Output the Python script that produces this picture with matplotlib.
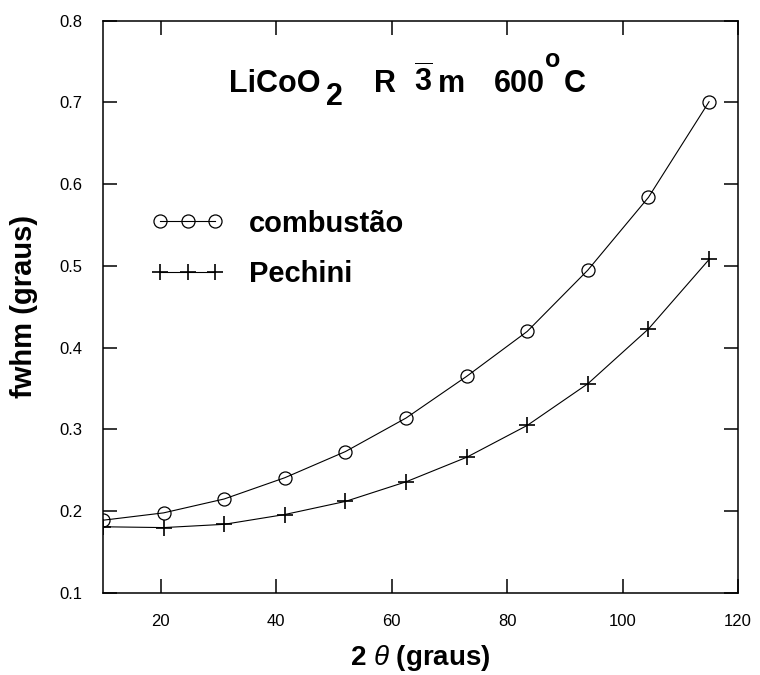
import matplotlib
matplotlib.use("Agg")
import matplotlib.pyplot as plt

plt.rcParams['font.family'] = ['Liberation Sans', 'DejaVu Sans']
plt.rcParams['mathtext.fontset'] = 'custom'
plt.rcParams['mathtext.rm'] = 'Liberation Sans'
plt.rcParams['mathtext.bf'] = 'Liberation Sans:bold'
plt.rcParams['mathtext.it'] = 'Liberation Sans:italic'

two_theta = [10, 20.5, 31, 41.5, 52, 62.5, 73, 83.5, 94, 104.5, 115]
combustao = [0.189, 0.198, 0.215, 0.241, 0.273, 0.314, 0.365, 0.420, 0.495, 0.584, 0.701]
pechini = [0.181, 0.180, 0.184, 0.196, 0.212, 0.236, 0.266, 0.305, 0.356, 0.423, 0.508]

xticks = [20, 40, 60, 80, 100, 120]
yticks = [0.1, 0.2, 0.3, 0.4, 0.5, 0.6, 0.7, 0.8]

fig = plt.figure(figsize=(7.6, 6.75), dpi=100)
ax = fig.add_axes([0.1355, 0.1215, 0.8355, 0.8478])

ax.plot(two_theta, combustao, color="black", lw=0.8, marker="o", ms=9.4,
        mfc="none", mec="black", mew=0.9, label="combustão")
ax.plot(two_theta, pechini, color="black", lw=0.8, marker="+", ms=11,
        mew=1.2, label="Pechini")

ax.set_xlim(10, 120)
ax.set_ylim(0.1, 0.8)
ax.set_xticks(xticks)
ax.set_yticks(yticks)
ax.set_xticklabels([str(t) for t in xticks])
ax.set_yticklabels(["%.1f" % t for t in yticks])
ax.tick_params(direction="in", length=10, width=1.1, top=True, right=True,
               labelsize=12, pad=15)
for s in ax.spines.values():
    s.set_linewidth(1.1)

ax.set_xlabel(r"2 $\mathit{\theta}$ (graus)", fontsize=20, fontweight="bold", labelpad=10)
ax.set_ylabel("fwhm (graus)", fontsize=21, fontweight="bold", labelpad=15)

# title text inside the axes
tk = dict(fontsize=22, fontweight="bold", va="baseline", ha="left")
ax.text(31.9, 0.7128, "LiCoO", **tk)
ax.text(48.6, 0.697, "2", **tk)
ax.text(57.0, 0.7128, "R", **tk)
ax.text(63.9, 0.7128, r"$\overline{\mathbf{3}}$", **tk)
ax.text(68.1, 0.7128, "m", **tk)
ax.text(77.8, 0.7128, "600", **tk)
ax.text(86.5, 0.7435, "o", fontsize=18, fontweight="bold", va="baseline", ha="left")
ax.text(89.8, 0.7128, "C", **tk)

ax.legend(loc="upper left", bbox_to_anchor=(0.076, 0.670), frameon=False,
          numpoints=3, handlelength=2.5, handletextpad=0.85, labelspacing=0.77,
          borderpad=0, borderaxespad=0,
          prop={"size": 21, "weight": "bold"})

fig.savefig("out.png", dpi=100)
